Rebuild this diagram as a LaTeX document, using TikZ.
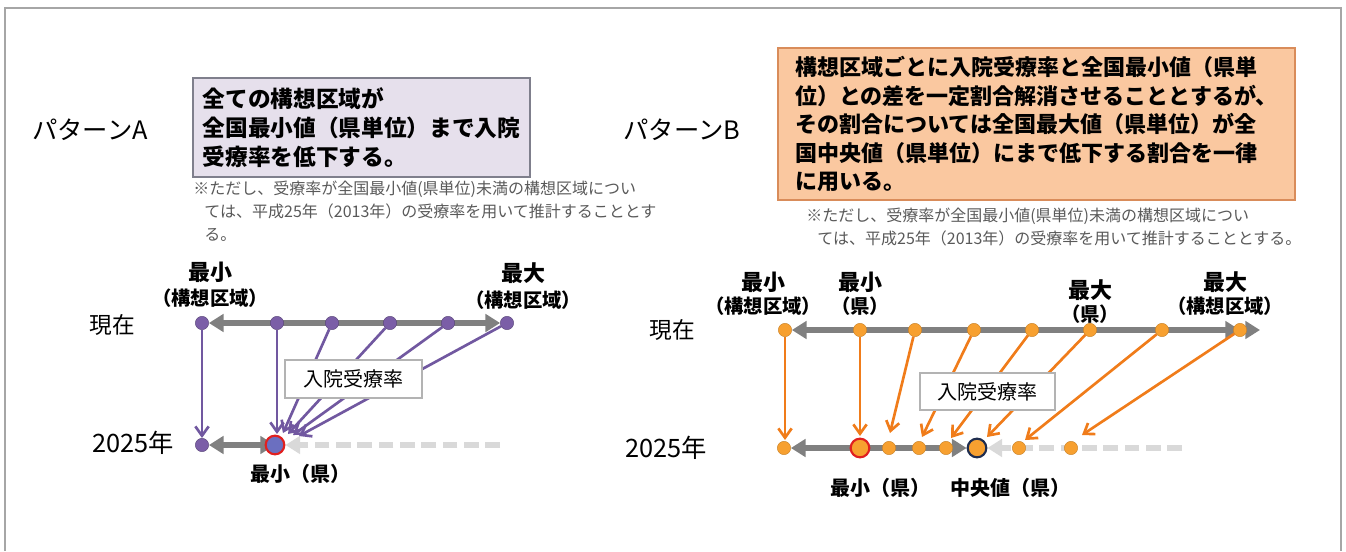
\documentclass[tikz,border=0pt]{standalone}
\usepackage{fontspec}
\setmainfont{Noto Sans CJK JP}
\usetikzlibrary{arrows.meta,backgrounds}
\definecolor{framegray}{HTML}{A6A6A6}
\definecolor{boxafill}{HTML}{E6E0EC}
\definecolor{boxadraw}{HTML}{7F7F8C}
\definecolor{boxbfill}{HTML}{FAC8A0}
\definecolor{boxbdraw}{HTML}{D98C5A}
\definecolor{notegray}{HTML}{595959}
\definecolor{axisgray}{HTML}{808080}
\definecolor{dashgray}{HTML}{D9D9D9}
\definecolor{dotpurple}{HTML}{7B5EA7}
\definecolor{arrpurple}{HTML}{7158A0}
\definecolor{minblue}{HTML}{6B6FC0}
\definecolor{dotorange}{HTML}{F7A030}
\definecolor{arrorange}{HTML}{F07C1A}
\definecolor{ringred}{HTML}{E02020}
\definecolor{ringnavy}{HTML}{1F2D4F}
\tikzset{
	pdot/.style={circle,inner sep=0pt,minimum size=10pt,fill=dotpurple,draw=dotpurple!70!black,line width=0.3pt},
	odot/.style={circle,inner sep=0pt,minimum size=10pt,fill=dotorange,draw=dotorange!80!black,line width=0.3pt},
	bigdot/.style={circle,inner sep=0pt,minimum size=14pt,line width=1.6pt},
	garr/.style={line width=5pt,draw=axisgray,>={Triangle[length=11pt,width=13pt]},<->},
	garrend/.style={line width=5pt,draw=axisgray,>={Triangle[length=11pt,width=13pt]},->},
	dasharr/.style={line width=5pt,draw=dashgray,dash pattern=on 11pt off 5pt,>={Triangle[length=11pt,width=13pt]},->},
	parr/.style={draw=arrpurple,line width=2pt,-{Straight Barb[length=7pt,width=10pt]}},
	oarr/.style={draw=arrorange,line width=2pt,-{Straight Barb[length=7pt,width=10pt]}},
	ratebox/.style={draw=axisgray!60,fill=white,line width=0.8pt,inner sep=0pt,font=\fontsize{15}{18}\selectfont},
	title/.style={font=\fontsize{19}{22}\selectfont},
	rowlabel/.style={font=\fontsize{17}{20}\selectfont},
	yearlabel/.style={font=\fontsize{19}{22}\selectfont},
	toplabel/.style={font=\fontsize{16.5}{19}\selectfont\bfseries},
	sublabel/.style={font=\fontsize{14.5}{17}\selectfont\bfseries},
	botlabel/.style={font=\fontsize{15}{18}\selectfont\bfseries},
	note/.style={text=notegray,align=left,inner sep=0pt,anchor=north west,font=\fontsize{12}{17.25}\selectfont}
}

\begin{document}
\begin{tikzpicture}[x=0.75pt,y=-0.75pt]
				\useasboundingbox (0,0) rectangle (1346,551);
				\draw[framegray,line width=0.8pt] (5,551) -- (5,8) -- (1341,8) -- (1341,551);

				\node[title] (pata) at (90,130) {パターンA};
				\node[draw=boxadraw,fill=boxafill,line width=0.8pt,minimum width=252.75pt,minimum height=74.25pt,align=left,font=\fontsize{17}{21.75}\selectfont\bfseries] (boxa) at (361.5,127.5) {全ての構想区域が\\全国最小値（県単位）まで入院\\受療率を低下する。};
				\node[note] (notea) at (193,181) {※ただし、受療率が全国最小値(県単位)未満の構想区域につい\\\hspace*{0.7em}ては、平成25年（2013年）の受療率を用いて推計することとす\\\hspace*{0.7em}る。};

				\node[title] (patb) at (682,130) {パターンB};
				\node[draw=boxbdraw,fill=boxbfill,line width=0.8pt,minimum width=387.75pt,minimum height=114pt,align=left,font=\fontsize{16.5}{21.4}\selectfont\bfseries] (boxb) at (1036.5,124) {構想区域ごとに入院受療率と全国最小値（県単\\位）との差を一定割合解消させることとするが、\\その割合については全国最大値（県単位）が全\\国中央値（県単位）にまで低下する割合を一律\\に用いる。};
				\node[note] (noteb) at (806,208) {※ただし、受療率が全国最小値(県単位)未満の構想区域につい\\\hspace*{0.7em}ては、平成25年（2013年）の受療率を用いて推計することとする。};

				\node[toplabel] (aminl) at (210,272) {最小};
				\node[sublabel] (aminls) at (210,298) {（構想区域）};
				\node[toplabel] (amaxl) at (523,273) {最大};
				\node[sublabel] (amaxls) at (523,300) {（構想区域）};
				\node[rowlabel] (anow) at (112,325) {現在};
				\node[yearlabel] (ayear) at (133,443) {2025年};
				\node[botlabel] (aminb) at (300,474) {最小（県）};

				\node[pdot] (a1) at (202,323) {};
				\node[pdot] (a2) at (277,323) {};
				\node[pdot] (a3) at (332,323) {};
				\node[pdot] (a4) at (390,323) {};
				\node[pdot] (a5) at (448,323) {};
				\node[pdot] (a6) at (507,323) {};
				\node[pdot] (c1) at (202,445) {};
				\node[bigdot,fill=minblue,draw=ringred] (cmin) at (275,445) {};
				\coordinate (da) at (500,445);

				\begin{pgfonlayer}{background}
					\draw[garr] (a1) -- (a6);
					\draw[garr] (c1) -- (cmin.center);
					\draw[dasharr] (da) -- (cmin);
				\end{pgfonlayer}

				\coordinate (ta1) at (202,438);
				\coordinate (ta2) at (277,434);
				\coordinate (ta3) at (283,433);
				\coordinate (ta4) at (288,434);
				\coordinate (ta5) at (293,435);
				\coordinate (ta6) at (299,436);
				\draw[parr] (a1) -- (ta1);
				\draw[parr] (a2) -- (ta2);
				\draw[parr] (a3) -- (ta3);
				\draw[parr] (a4) -- (ta4);
				\draw[parr] (a5) -- (ta5);
				\draw[parr] (a6) -- (ta6);
				\node[ratebox,minimum width=102.75pt,minimum height=28.5pt] (ratea) at (353.5,379) {入院受療率};

				\node[toplabel] (bminl) at (763,282) {最小};
				\node[sublabel] (bminls) at (763,306) {（構想区域）};
				\node[toplabel] (bprefl) at (860,282) {最小};
				\node[sublabel] (bprefls) at (860,306) {（県）};
				\node[toplabel] (bprefh) at (1090,290) {最大};
				\node[sublabel] (bprefhs) at (1090,314) {（県）};
				\node[toplabel] (bmaxl) at (1225,282) {最大};
				\node[sublabel] (bmaxls) at (1225,306) {（構想区域）};
				\node[rowlabel] (bnow) at (672,330) {現在};
				\node[yearlabel] (byear) at (666,448) {2025年};
				\node[botlabel] (bminb) at (880,488) {最小（県）};
				\node[botlabel] (bmedb) at (1010,488) {中央値（県）};

				\node[odot] (b1) at (785,330) {};
				\node[odot] (b2) at (860,330) {};
				\node[odot] (b3) at (915,330) {};
				\node[odot] (b4) at (974,330) {};
				\node[odot] (b5) at (1032,330) {};
				\node[odot] (b6) at (1090,330) {};
				\node[odot] (b7) at (1162,330) {};
				\node[odot] (b8) at (1240,330) {};
				\node[odot] (d1) at (784,448) {};
				\node[bigdot,fill=dotorange,draw=ringred] (dmin) at (860,448) {};
				\node[odot] (d3) at (889,448) {};
				\node[odot] (d4) at (919,448) {};
				\node[odot] (d5) at (946,448) {};
				\node[bigdot,fill=dotorange,draw=ringnavy] (dmed) at (977,448) {};
				\node[odot] (d7) at (1019,448) {};
				\node[odot] (d8) at (1071,448) {};
				\coordinate (bend) at (1260,330);
				\coordinate (db) at (1182,448);

				\begin{pgfonlayer}{background}
					\draw[garrend] (b8.center) -- (bend);
					\draw[garr] (b1) -- (b8.center);
					\draw[garr] (d1) -- (dmed);
					\draw[dasharr] (db) -- (dmed);
				\end{pgfonlayer}

				\coordinate (tb1) at (785,440);
				\coordinate (tb2) at (860,436);
				\coordinate (tb3) at (890,433);
				\coordinate (tb4) at (922,437);
				\coordinate (tb5) at (951,438);
				\coordinate (tb6) at (987,437);
				\coordinate (tb7) at (1025,440);
				\coordinate (tb8) at (1082,435);
				\draw[oarr] (b1) -- (tb1);
				\draw[oarr] (b2) -- (tb2);
				\draw[oarr] (b3) -- (tb3);
				\draw[oarr] (b4) -- (tb4);
				\draw[oarr] (b5) -- (tb5);
				\draw[oarr] (b6) -- (tb6);
				\draw[oarr] (b7) -- (tb7);
				\draw[oarr] (b8) -- (tb8);
				\node[ratebox,minimum width=101.25pt,minimum height=27.75pt] (rateb) at (987.5,391.5) {入院受療率};
			\end{tikzpicture}
\end{document}
